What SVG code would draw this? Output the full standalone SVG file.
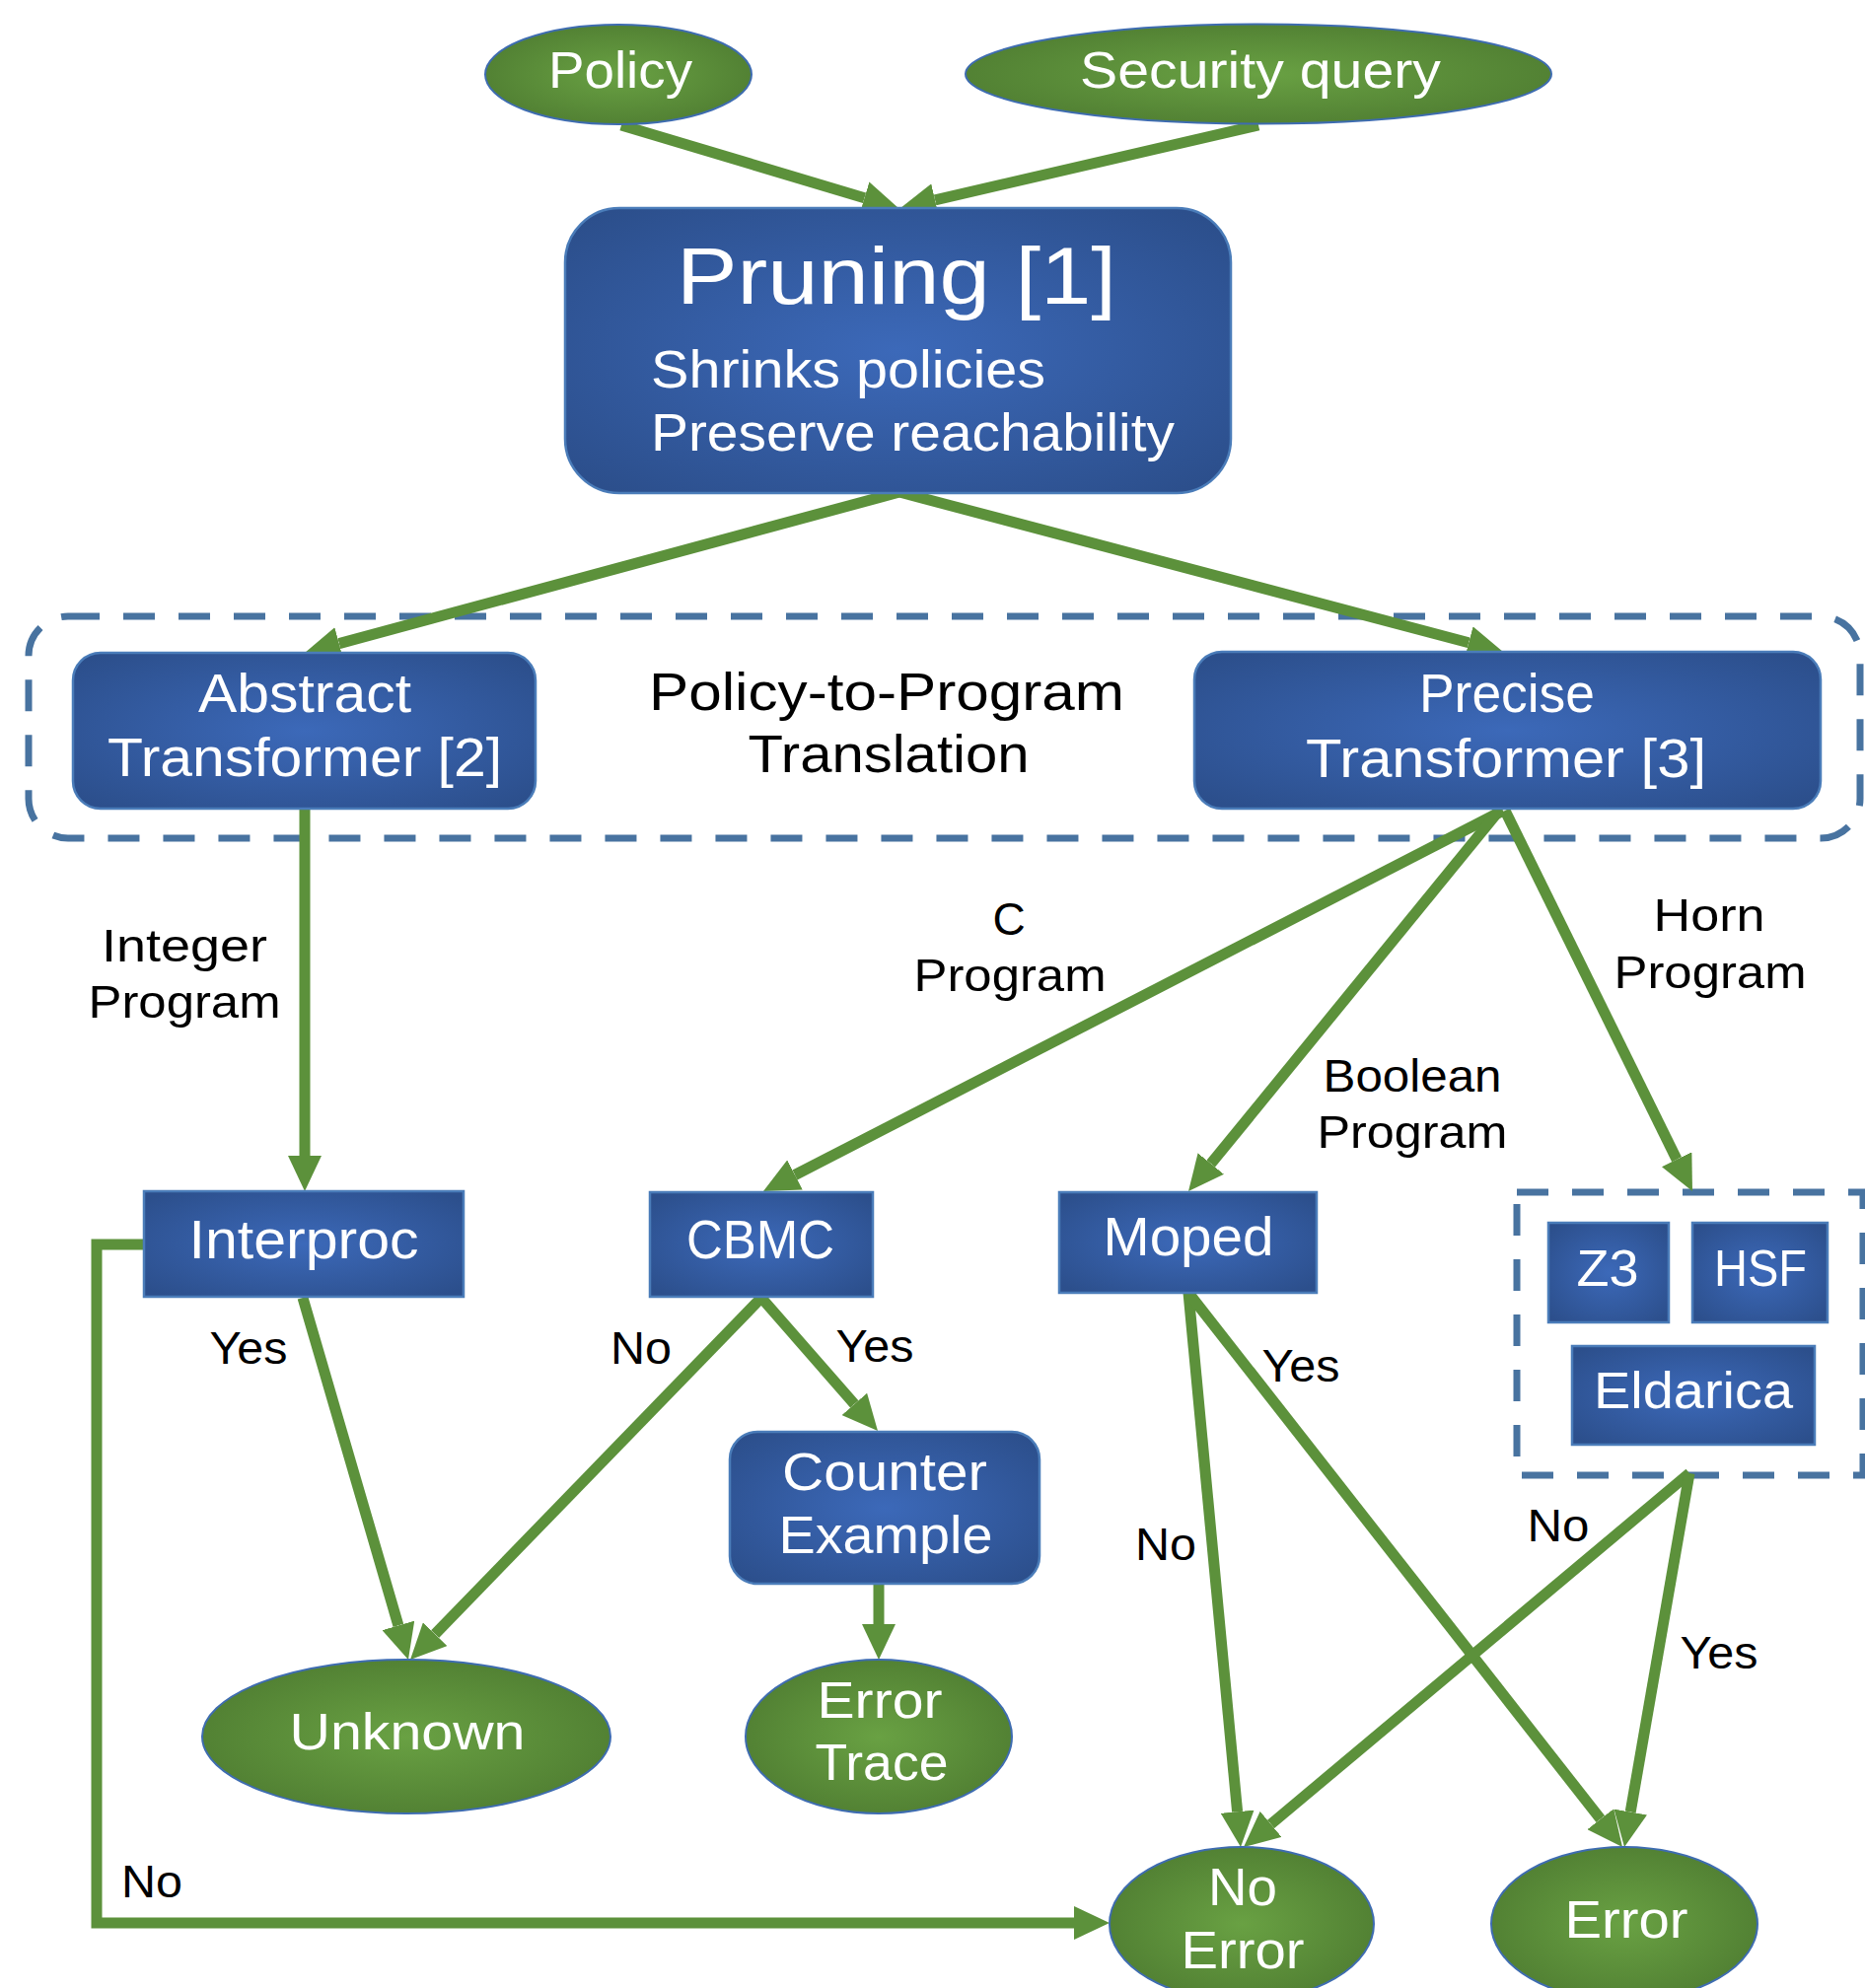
<svg xmlns="http://www.w3.org/2000/svg" width="1891" height="2016" viewBox="0 0 1891 2016">
<defs>
<radialGradient id="gBlue" cx="50%" cy="50%" r="65%">
<stop offset="0" stop-color="#3c69b9"/>
<stop offset="1" stop-color="#2c4f8c"/>
</radialGradient>
<radialGradient id="gGreen" cx="50%" cy="50%" r="62%">
<stop offset="0" stop-color="#69a143"/>
<stop offset="1" stop-color="#4d7a30"/>
</radialGradient>
<marker id="ah" viewBox="0 0 36 34" refX="0" refY="17" markerWidth="36" markerHeight="34" markerUnits="userSpaceOnUse" orient="auto">
<path d="M0,0 L36,17 L0,34 z" fill="#5c913b"/>
</marker>
<style>
.box{fill:url(#gBlue);stroke:#4a7cb9;stroke-width:2.5}
.ell{fill:url(#gGreen);stroke:#3e6cb0;stroke-width:2}
.dash{fill:none;stroke:#4873a0;stroke-width:7;stroke-dasharray:32 24}
.con{fill:none;stroke:#5c913b;stroke-width:11;marker-end:url(#ah)}
.w{fill:#ffffff;font-family:"Liberation Sans",Arial,sans-serif;text-anchor:middle}
.s{text-anchor:start}
.k{fill:#000000;font-family:"Liberation Sans",Arial,sans-serif;text-anchor:middle;font-size:46px}
.big{font-size:54px}
</style>
</defs>
<rect width="1891" height="2016" fill="#ffffff"/>

<g id="containers">
<rect id="translation-group" class="dash" x="29" y="625" width="1857" height="225" rx="40" ry="40"/>
<rect id="horn-group" class="dash" x="1538" y="1209" width="351" height="287"/>
</g>

<g id="connectors">
<line class="con" x1="630" y1="127" x2="876.5" y2="200.7"/>
<line class="con" x1="1276" y1="127" x2="948.1" y2="202.9"/>
<line class="con" x1="912" y1="499" x2="343.8" y2="652.6"/>
<line class="con" x1="912" y1="499" x2="1489.2" y2="651.8"/>
<line class="con" x1="309" y1="820" x2="309" y2="1172"/>
<line class="con" x1="1524" y1="822" x2="806" y2="1191.5"/>
<line class="con" x1="1520" y1="822" x2="1227.8" y2="1180.1"/>
<line class="con" x1="1526" y1="822" x2="1700.1" y2="1175.7"/>
<line class="con" x1="307" y1="1316" x2="403.9" y2="1648.4"/>
<line class="con" x1="772" y1="1316" x2="441.1" y2="1657.2"/>
<line class="con" x1="772" y1="1316" x2="866.3" y2="1423.9"/>
<line class="con" x1="891" y1="1607" x2="891" y2="1647"/>
<line class="con" x1="1205" y1="1311" x2="1254.6" y2="1837.2"/>
<line class="con" x1="1205" y1="1311" x2="1622.8" y2="1844.7"/>
<line class="con" x1="1713" y1="1494" x2="1288.6" y2="1849.9"/>
<line class="con" x1="1713" y1="1494" x2="1653.2" y2="1837.5"/>
<polyline class="con" points="147,1262 98,1262 98,1950 1089,1950"/>
<text class="k" x="187" y="975" textLength="168" lengthAdjust="spacingAndGlyphs">Integer</text>
<text class="k" x="187" y="1032" textLength="195" lengthAdjust="spacingAndGlyphs">Program</text>
<text class="k" x="1023" y="948">C</text>
<text class="k" x="1024" y="1005" textLength="195" lengthAdjust="spacingAndGlyphs">Program</text>
<text class="k" x="1733" y="944" textLength="113" lengthAdjust="spacingAndGlyphs">Horn</text>
<text class="k" x="1734" y="1002" textLength="195" lengthAdjust="spacingAndGlyphs">Program</text>
<text class="k" x="1432" y="1107" textLength="181" lengthAdjust="spacingAndGlyphs">Boolean</text>
<text class="k" x="1432" y="1164" textLength="193" lengthAdjust="spacingAndGlyphs">Program</text>
<text class="k" x="252" y="1383" textLength="79" lengthAdjust="spacingAndGlyphs">Yes</text>
<text class="k" x="650" y="1383" textLength="62" lengthAdjust="spacingAndGlyphs">No</text>
<text class="k" x="887" y="1381" textLength="79" lengthAdjust="spacingAndGlyphs">Yes</text>
<text class="k" x="1319" y="1401" textLength="79" lengthAdjust="spacingAndGlyphs">Yes</text>
<text class="k" x="1182" y="1582" textLength="62" lengthAdjust="spacingAndGlyphs">No</text>
<text class="k" x="1580" y="1563" textLength="63" lengthAdjust="spacingAndGlyphs">No</text>
<text class="k" x="1743" y="1692" textLength="79" lengthAdjust="spacingAndGlyphs">Yes</text>
<text class="k" x="154" y="1924" textLength="62" lengthAdjust="spacingAndGlyphs">No</text>
</g>

<g id="policy">
<ellipse class="ell" cx="627" cy="75.5" rx="135" ry="50.5"/>
<text class="w" x="629" y="89" font-size="52" textLength="146" lengthAdjust="spacingAndGlyphs">Policy</text>
</g>
<g id="security-query">
<ellipse class="ell" cx="1276" cy="75" rx="297" ry="50.5"/>
<text class="w" x="1278" y="89" font-size="52" textLength="366" lengthAdjust="spacingAndGlyphs">Security query</text>
</g>
<g id="pruning">
<rect class="box" x="573" y="211" width="675" height="289" rx="55" ry="55"/>
<text class="w" x="909" y="308" font-size="81" textLength="446" lengthAdjust="spacingAndGlyphs">Pruning [1]</text>
<text class="w s" x="660" y="393" font-size="53" textLength="400" lengthAdjust="spacingAndGlyphs">Shrinks policies</text>
<text class="w s" x="660" y="457" font-size="53" textLength="531" lengthAdjust="spacingAndGlyphs">Preserve reachability</text>
</g>
<g id="translation-label">
<text class="k big" x="899" y="720" textLength="482" lengthAdjust="spacingAndGlyphs">Policy-to-Program</text>
<text class="k big" x="901" y="783" textLength="285" lengthAdjust="spacingAndGlyphs">Translation</text>
</g>
<g id="abstract-transformer">
<rect class="box" x="74" y="662" width="469" height="158" rx="28" ry="28"/>
<text class="w" x="309" y="722" font-size="55" textLength="216" lengthAdjust="spacingAndGlyphs">Abstract</text>
<text class="w" x="309" y="787" font-size="55" textLength="400" lengthAdjust="spacingAndGlyphs">Transformer [2]</text>
</g>
<g id="precise-transformer">
<rect class="box" x="1211" y="661" width="635" height="159" rx="28" ry="28"/>
<text class="w" x="1528" y="722" font-size="55" textLength="178" lengthAdjust="spacingAndGlyphs">Precise</text>
<text class="w" x="1527" y="788" font-size="55" textLength="406" lengthAdjust="spacingAndGlyphs">Transformer [3]</text>
</g>
<g id="interproc">
<rect class="box" x="146" y="1208" width="324" height="107"/>
<text class="w" x="308" y="1276" font-size="56" textLength="233" lengthAdjust="spacingAndGlyphs">Interproc</text>
</g>
<g id="cbmc">
<rect class="box" x="659" y="1209" width="226" height="106"/>
<text class="w" x="771" y="1276" font-size="56" textLength="150" lengthAdjust="spacingAndGlyphs">CBMC</text>
</g>
<g id="moped">
<rect class="box" x="1074" y="1209" width="261" height="102"/>
<text class="w" x="1205" y="1273" font-size="56" textLength="173" lengthAdjust="spacingAndGlyphs">Moped</text>
</g>
<g id="z3">
<rect class="box" x="1570" y="1240" width="122" height="101"/>
<text class="w" x="1630" y="1304" font-size="52" textLength="63" lengthAdjust="spacingAndGlyphs">Z3</text>
</g>
<g id="hsf">
<rect class="box" x="1716" y="1240" width="137" height="101"/>
<text class="w" x="1785" y="1304" font-size="52" textLength="94" lengthAdjust="spacingAndGlyphs">HSF</text>
</g>
<g id="eldarica">
<rect class="box" x="1594" y="1365" width="246" height="100"/>
<text class="w" x="1717" y="1428" font-size="52" textLength="202" lengthAdjust="spacingAndGlyphs">Eldarica</text>
</g>
<g id="counter-example">
<rect class="box" x="740" y="1452" width="314" height="154" rx="28" ry="28"/>
<text class="w" x="897" y="1511" font-size="53" textLength="208" lengthAdjust="spacingAndGlyphs">Counter</text>
<text class="w" x="898" y="1575" font-size="53" textLength="217" lengthAdjust="spacingAndGlyphs">Example</text>
</g>
<g id="unknown">
<ellipse class="ell" cx="412" cy="1761" rx="207" ry="78"/>
<text class="w" x="413" y="1774" font-size="52" textLength="239" lengthAdjust="spacingAndGlyphs">Unknown</text>
</g>
<g id="error-trace">
<ellipse class="ell" cx="891" cy="1761" rx="135" ry="78"/>
<text class="w" x="892" y="1742" font-size="52" textLength="127" lengthAdjust="spacingAndGlyphs">Error</text>
<text class="w" x="894" y="1805" font-size="52" textLength="135" lengthAdjust="spacingAndGlyphs">Trace</text>
</g>
<g id="no-error">
<ellipse class="ell" cx="1259" cy="1951" rx="134" ry="78"/>
<text class="w" x="1260" y="1932" font-size="53" textLength="70" lengthAdjust="spacingAndGlyphs">No</text>
<text class="w" x="1260" y="1996" font-size="53" textLength="125" lengthAdjust="spacingAndGlyphs">Error</text>
</g>
<g id="error">
<ellipse class="ell" cx="1647" cy="1951" rx="135" ry="78"/>
<text class="w" x="1649" y="1965" font-size="53" textLength="125" lengthAdjust="spacingAndGlyphs">Error</text>
</g>
</svg>
